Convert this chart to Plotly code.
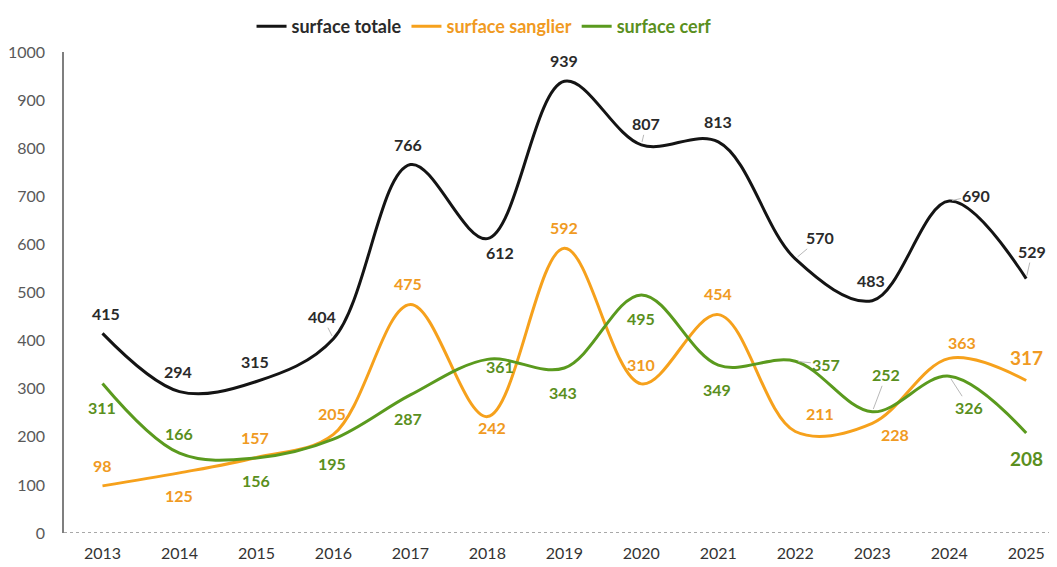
import plotly.graph_objects as go

years = [2013, 2014, 2015, 2016, 2017, 2018, 2019, 2020, 2021, 2022, 2023, 2024, 2025]
surface_totale = [415, 294, 315, 404, 766, 612, 939, 807, 813, 570, 483, 690, 529]
surface_sanglier = [98, 125, 157, 205, 475, 242, 592, 310, 454, 211, 228, 363, 317]
surface_cerf = [311, 166, 156, 195, 287, 361, 343, 495, 349, 357, 252, 326, 208]
y_ticks = [0, 100, 200, 300, 400, 500, 600, 700, 800, 900, 1000]

# label offsets in pixels (dx, dy) and whether a leader line is shown
off_totale = [(4, -20), (-1, -20), (-1, -20), (-11, -22), (-2, -20), (13, 14), (0, -21),
              (5, -21), (0, -20), (25, -21), (-1, -20), (27, -6), (6, -27)]
lead_totale = [0, 0, 0, 1, 0, 0, 0, 1, 0, 1, 0, 1, 1]
off_sanglier = [(0, -20), (0, 23), (-1, -20), (-1, -21), (-2, -21), (5, 11), (0, -21),
                (0, -19), (0, -21), (25, -18), (23, 11), (13, -16), (0, -23)]
lead_sanglier = [0] * 13
off_cerf = [(0, 24), (0, -20), (0, 23), (-1, 24), (-2, 24), (13, 7), (-1, 24),
            (0, 24), (-1, 24), (31, 3), (14, -37), (20, 31), (0, 26)]
lead_cerf = [0, 0, 0, 0, 0, 0, 0, 0, 0, 1, 1, 1, 0]

C_TOT, C_SAN, C_CER = "#141414", "#F6A11C", "#5A9A1E"
L_TOT, L_SAN, L_CER = "#2a2a2a", "#F09A22", "#5A8F20"
FONT = "Lato"

fig = go.Figure()
series = [
    ("surface totale", surface_totale, C_TOT, L_TOT, off_totale, lead_totale),
    ("surface sanglier", surface_sanglier, C_SAN, L_SAN, off_sanglier, lead_sanglier),
    ("surface cerf", surface_cerf, C_CER, L_CER, off_cerf, lead_cerf),
]
annotations = []
for name, vals, col, lcol, offs, leads in series:
    fig.add_trace(go.Scatter(
        x=years, y=vals, mode="lines", name=f"<span style='color:{lcol}'>{name}</span>",
        line=dict(color=col, width=3, shape="spline", smoothing=1.0),
        hoverinfo="x+y",
    ))
    for i, (yr, v) in enumerate(zip(years, vals)):
        big = (i == len(vals) - 1 and name != "surface totale")
        annotations.append(dict(
            x=yr, y=v, xref="x", yref="y", text=str(v),
            showarrow=True, ax=offs[i][0], ay=offs[i][1],
            arrowhead=0, arrowwidth=1, standoff=3,
            arrowcolor="#b8b8b8" if leads[i] else "rgba(0,0,0,0)",
            font=dict(family=FONT, size=19 if big else 16, color=lcol, weight="bold"),
        ))

# dotted baseline
fig.add_shape(type="line", xref="paper", yref="y", x0=0, x1=1, y0=0, y1=0,
              line=dict(color="#8c8c8c", width=1.5, dash="dot"))

fig.update_layout(
    width=1049, height=559, autosize=False,
    margin=dict(l=56, r=0, t=36, b=34),
    paper_bgcolor="white", plot_bgcolor="white",
    font=dict(family=FONT),
    annotations=annotations,
    showlegend=True,
    legend=dict(orientation="h", x=0.423, xanchor="center", y=1.053, yanchor="middle",
                font=dict(family=FONT, size=18, color="#222", weight="bold"),
                itemwidth=30, traceorder="normal", bgcolor="rgba(0,0,0,0)"),
    xaxis=dict(range=[2012.5, 2025.4], tickvals=years, ticktext=[str(y) for y in years],
               showgrid=False, zeroline=False, showline=False, ticks="",
               tickfont=dict(family=FONT, size=16, color="#333333"), ticklabelstandoff=9),
    yaxis=dict(range=[0, 1000], tickvals=y_ticks, showgrid=False, zeroline=False,
               showline=True, linecolor="#7f7f7f", linewidth=1.5, ticks="",
               tickfont=dict(family=FONT, size=16, color="#595959"), ticklabelstandoff=14),
)

fig.write_html("out.html")
